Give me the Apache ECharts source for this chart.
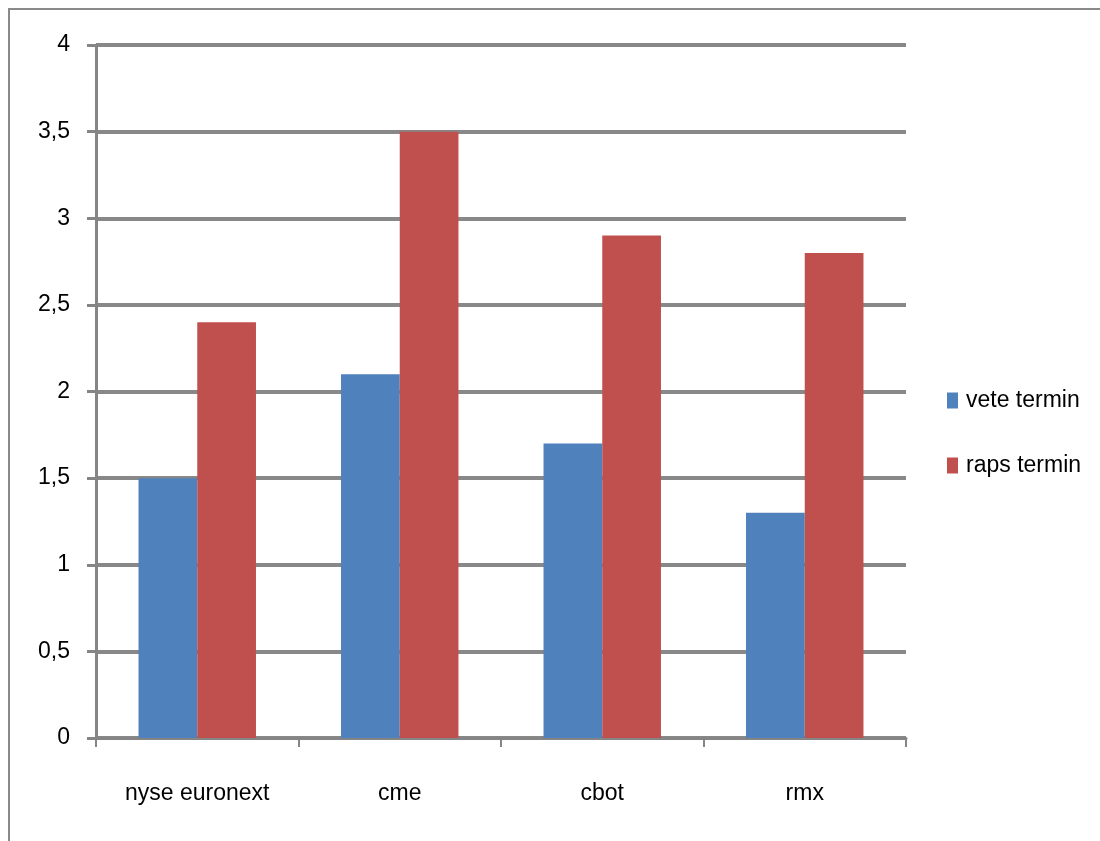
<!DOCTYPE html>
<html>
<head>
<meta charset="utf-8">
<script src="https://cdn.jsdelivr.net/npm/echarts@6/dist/echarts.min.js"></script>
<style>
html,body{margin:0;padding:0;background:#fff;}
#chart{width:1100px;height:841px;}
</style>
</head>
<body>
<div id="chart"></div>
<script>
var categories = ['nyse euronext', 'cme', 'cbot', 'rmx'];
var seriesNames = ['vete termin', 'raps termin'];
var veteValues = [1.5, 2.1, 1.7, 1.3];
var rapsValues = [2.4, 3.5, 2.9, 2.8];
var yTicks = [0, 0.5, 1, 1.5, 2, 2.5, 3, 3.5, 4];

var FONT = "'Liberation Sans', Arial, sans-serif";
var chart = echarts.init(document.getElementById('chart'), null, {renderer: 'canvas'});
chart.setOption({
  backgroundColor: '#ffffff',
  animation: false,
  graphic: [{
    type: 'polyline',
    shape: {points: [[9, 841], [9, 9], [1100, 9]]},
    style: {stroke: '#8a8a8a', lineWidth: 2, fill: null},
    silent: true
  }],
  legend: {
    orient: 'vertical',
    left: 942,
    top: 384,
    itemWidth: 11,
    itemHeight: 16,
    itemGap: 42,
    icon: 'rect',
    textStyle: {fontFamily: FONT, fontSize: 23, color: '#000', padding: [0, 0, 0, 3]},
    data: seriesNames
  },
  grid: {left: 96, right: 194, top: 45, bottom: 103, containLabel: false},
  xAxis: {
    type: 'category',
    data: categories,
    axisLine: {lineStyle: {color: '#858585', width: 3}},
    axisTick: {show: true, length: 9, lineStyle: {color: '#858585', width: 2}},
    axisLabel: {fontFamily: FONT, fontSize: 23, color: '#000', margin: 44}
  },
  yAxis: {
    type: 'value',
    min: 0, max: 4, interval: 0.5,
    axisLine: {show: true, lineStyle: {color: '#858585', width: 3}},
    axisTick: {show: true, length: 9, lineStyle: {color: '#858585', width: 3}},
    splitLine: {lineStyle: {color: '#888888', width: 4}},
    axisLabel: {
      fontFamily: FONT, fontSize: 23, color: '#000', margin: 26,
      formatter: function (v) { return String(v).replace('.', ','); }
    }
  },
  series: [
    {name: seriesNames[0], type: 'bar', data: veteValues, barGap: '0%', barCategoryGap: '42%',
     itemStyle: {color: '#4F81BD'}},
    {name: seriesNames[1], type: 'bar', data: rapsValues, barGap: '0%', barCategoryGap: '42%',
     itemStyle: {color: '#C0504D'}}
  ]
});
</script>
</body>
</html>
